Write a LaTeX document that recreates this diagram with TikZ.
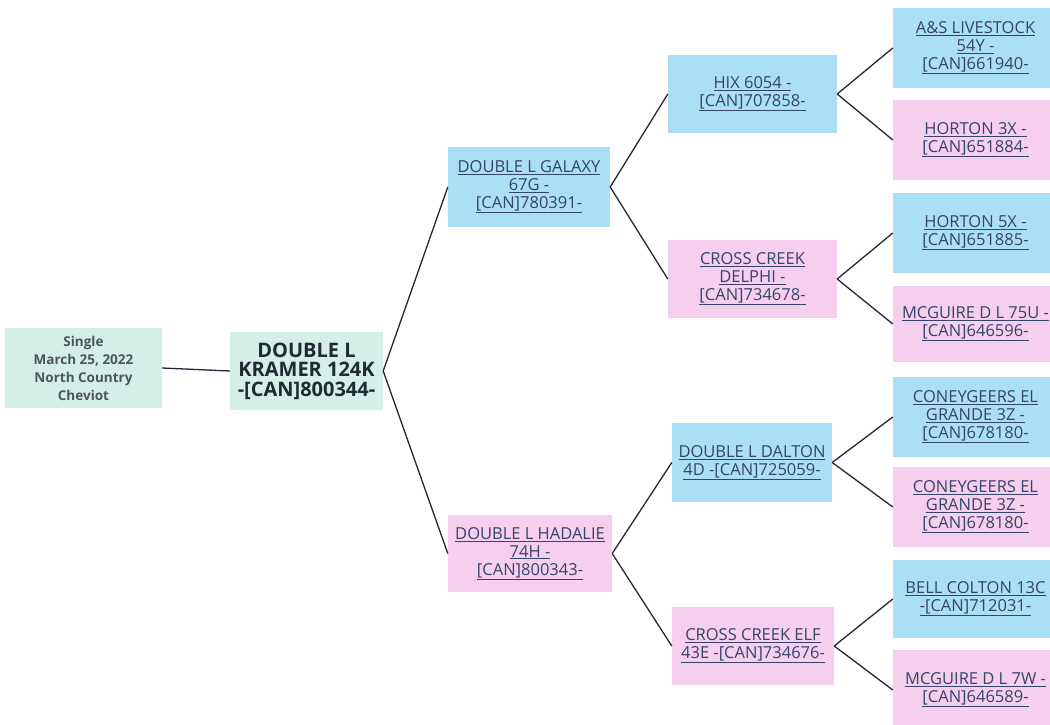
\documentclass[tikz,border=0pt]{standalone}
\usepackage{fontspec}
\setmainfont{Open Sans}
\definecolor{mintc}{HTML}{D3EFE8}
\definecolor{bluec}{HTML}{ABDFF5}
\definecolor{pinkc}{HTML}{F6CEEE}
\definecolor{linkc}{HTML}{34446A}
\definecolor{darkc}{HTML}{1F2B33}
\definecolor{linec}{HTML}{26263A}
\newcommand\lk[1]{\underline{#1}}
\tikzset{
  box/.style={inner sep=0pt, align=center, text=linkc, font=\fontsize{16.5}{18}\selectfont},
  sire/.style={box, fill=bluec},
  dam/.style={box, fill=pinkc},
  conn/.style={draw=linec, line width=1.3pt},
}
\begin{document}
\begin{tikzpicture}[x=1pt,y=-1pt]
\useasboundingbox (0,0) rectangle (1050,725);
\clip (0,0) rectangle (1050,725);
% root info
\node[fill=mintc, minimum width=157pt, minimum height=80pt, inner sep=0pt, align=center, text=darkc!80, font=\bfseries\fontsize{13.5}{18}\selectfont] (info) at (83.5,368) {Single\\March 25, 2022\\North Country\\Cheviot};
\node[fill=mintc, minimum width=153pt, minimum height=78pt, inner sep=0pt, align=center, text=darkc, font=\bfseries\fontsize{20}{19.5}\selectfont] (main) at (306.5,371) {DOUBLE L\\KRAMER 124K\\-[CAN]800344-};
% parents
\node[sire, minimum width=162pt, minimum height=80pt] (galaxy) at (529,187) {\lk{DOUBLE L GALAXY}\\\lk{67G -}\\\lk{[CAN]780391-}};
\node[dam, minimum width=164pt, minimum height=77pt] (hadalie) at (530,553.5) {\lk{DOUBLE L HADALIE}\\\lk{74H -}\\\lk{[CAN]800343-}};
% grandparents
\node[sire, minimum width=169pt, minimum height=78pt] (hix) at (752.5,94) {\lk{HIX 6054 -}\\\lk{[CAN]707858-}};
\node[dam, minimum width=169pt, minimum height=78pt] (delphi) at (752.5,279) {\lk{CROSS CREEK}\\\lk{DELPHI -}\\\lk{[CAN]734678-}};
\node[sire, minimum width=160pt, minimum height=79pt] (dalton) at (752,462.5) {\lk{DOUBLE L DALTON}\\\lk{4D -[CAN]725059-}};
\node[dam, minimum width=162pt, minimum height=78pt] (elf) at (753,646) {\lk{CROSS CREEK ELF}\\\lk{43E -[CAN]734676-}};
% great-grandparents
\node[sire, minimum width=165pt, minimum height=80pt] (as) at (975.5,48) {\lk{A\&S LIVESTOCK}\\\lk{54Y -}\\\lk{[CAN]661940-}};
\node[dam, minimum width=165pt, minimum height=80pt] (h3x) at (975.5,140) {\lk{HORTON 3X -}\\\lk{[CAN]651884-}};
\node[sire, minimum width=165pt, minimum height=80pt] (h5x) at (975.5,233) {\lk{HORTON 5X -}\\\lk{[CAN]651885-}};
\node[dam, minimum width=165pt, minimum height=76pt] (m75u) at (975.5,324) {\lk{MCGUIRE D L 75U -}\\\lk{[CAN]646596-}};
\node[sire, minimum width=165pt, minimum height=80pt] (cey1) at (975.5,417) {\lk{CONEYGEERS EL}\\\lk{GRANDE 3Z -}\\\lk{[CAN]678180-}};
\node[dam, minimum width=165pt, minimum height=80pt] (cey2) at (975.5,507) {\lk{CONEYGEERS EL}\\\lk{GRANDE 3Z -}\\\lk{[CAN]678180-}};
\node[sire, minimum width=165pt, minimum height=78pt] (bell) at (975.5,599) {\lk{BELL COLTON 13C}\\\lk{-[CAN]712031-}};
\node[dam, minimum width=165pt, minimum height=80pt] (m7w) at (975.5,690) {\lk{MCGUIRE D L 7W -}\\\lk{[CAN]646589-}};
% connectors
\draw[conn] (info.east) -- (main.west);
\draw[conn] (main.east) -- (galaxy.west);
\draw[conn] (main.east) -- (hadalie.west);
\draw[conn] (galaxy.east) -- (hix.west);
\draw[conn] (galaxy.east) -- (delphi.west);
\draw[conn] (hadalie.east) -- (dalton.west);
\draw[conn] (hadalie.east) -- (elf.west);
\draw[conn] (hix.east) -- (as.west);
\draw[conn] (hix.east) -- (h3x.west);
\draw[conn] (delphi.east) -- (h5x.west);
\draw[conn] (delphi.east) -- (m75u.west);
\draw[conn] (dalton.east) -- (cey1.west);
\draw[conn] (dalton.east) -- (cey2.west);
\draw[conn] (elf.east) -- (bell.west);
\draw[conn] (elf.east) -- (m7w.west);
\end{tikzpicture}
\end{document}
